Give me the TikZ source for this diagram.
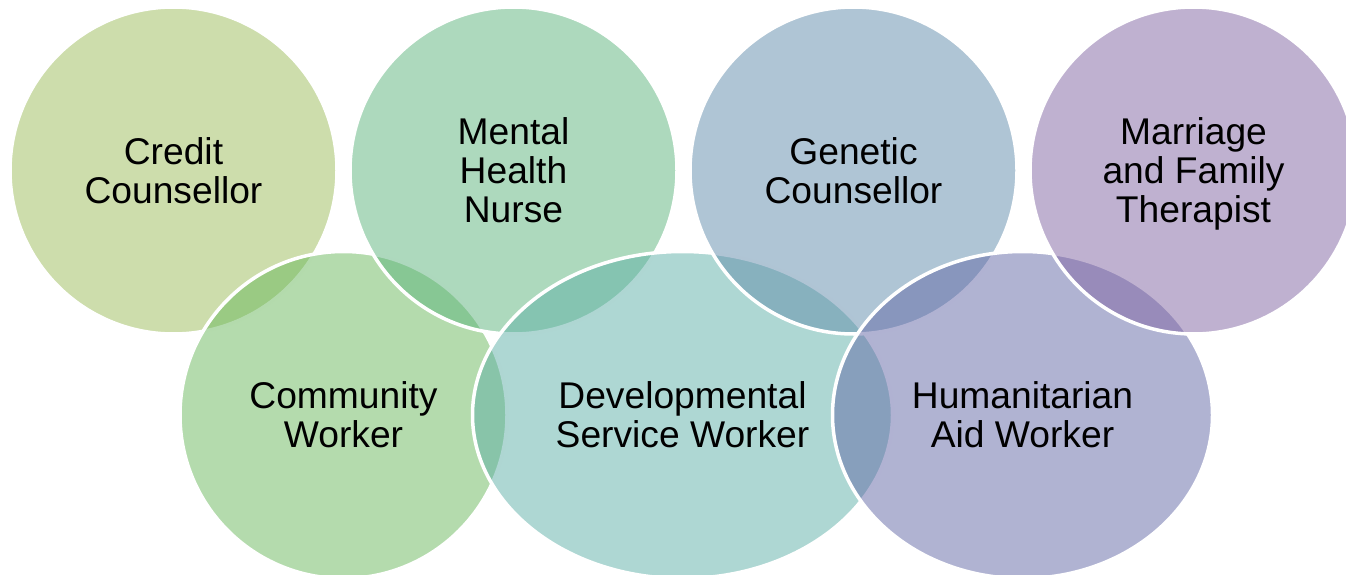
\documentclass[tikz,border=0pt]{standalone}
\usepackage{fontspec}
\setmainfont{Liberation Sans}
\usetikzlibrary{shapes.geometric}
\definecolor{c1}{RGB}{155,187,89}
\definecolor{c2}{RGB}{105,183,91}
\definecolor{c3}{RGB}{92,179,124}
\definecolor{c4}{RGB}{94,175,167}
\definecolor{c5}{RGB}{96,139,171}
\definecolor{c6}{RGB}{98,103,166}
\definecolor{c7}{RGB}{128,100,162}
\begin{document}
\begin{tikzpicture}[x=1pt,y=-1pt,
  ring/.style={ellipse, draw=white, line width=3.5pt, fill opacity=0.5, draw opacity=1, text opacity=1,
    inner sep=0pt, outer sep=0pt, align=center, font=\fontsize{37.2}{39}\selectfont, text depth=0pt,
    minimum height=327pt, minimum width=327pt}]
\useasboundingbox (0,0) rectangle (1346,575);
\clip (0,0) rectangle (1346,575);
\node[ring, fill=c1] (credit) at (173.5,170.5) {Credit\\Counsellor};
\node[ring, fill=c2] (community) at (343.5,415) {Community\\Worker};
\node[ring, fill=c3] (mental) at (513.5,170.5) {Mental\\Health\\Nurse};
\node[ring, fill=c4, minimum width=420pt] (dev) at (682.5,415) {Developmental\\Service Worker};
\node[ring, fill=c5] (genetic) at (853.5,170.5) {Genetic\\Counsellor};
\node[ring, fill=c6, minimum width=380pt] (hum) at (1022.5,415) {Humanitarian\\Aid Worker};
\node[ring, fill=c7] (marriage) at (1193.5,170.5) {Marriage\\and Family\\Therapist};
\end{tikzpicture}
\end{document}
